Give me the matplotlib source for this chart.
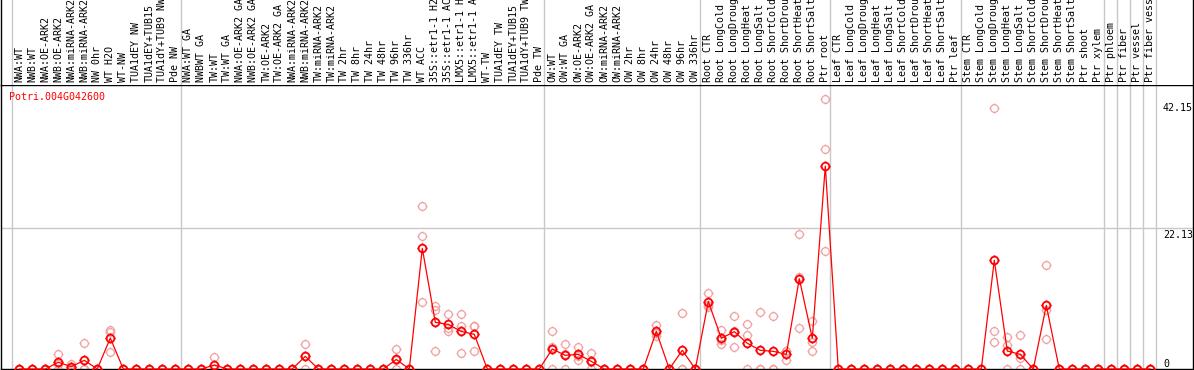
import numpy as np
import matplotlib
matplotlib.use("Agg")
import matplotlib.pyplot as plt
from matplotlib.path import Path

gene = "Potri.004G042600"

labels = [
    # NW
    "NWA:WT", "NWB:WT", "NWA:OE-ARK2", "NWB:OE-ARK2", "NWA:miRNA-ARK2", "NWB:miRNA-ARK2",
    "NW 0hr", "WT H2O", "WT-NW", "TUA1dEY NW", "TUA1dEY+TUB15", "TUA1dY+TUB9 NW", "Pde NW",
    # TW
    "NWA:WT GA", "NWBWT GA", "TW:WT", "TW:WT GA", "NWA:OE-ARK2 GA", "NWB:OE-ARK2 GA",
    "TW:OE-ARK2", "TW:OE-ARK2 GA", "NWA:miRNA-ARK2", "NWB:miRNA-ARK2", "TW:miRNA-ARK2",
    "TW:miRNA-ARK2", "TW 2hr", "TW 8hr", "TW 24hr", "TW 48hr", "TW 96hr", "TW 336hr",
    "WT ACC", "35S::etr1-1 H2", "35S::etr1-1 AC", "LMX5::etr1-1 H", "LMX5::etr1-1 A",
    "WT-TW", "TUA1dEY TW", "TUA1dEY+TUB15", "TUA1dY+TUB9 TW", "Pde TW",
    # OW
    "OW:WT", "OW:WT GA", "OW:OE-ARK2", "OW:OE-ARK2 GA", "OW:miRNA-ARK2", "OW:miRNA-ARK2",
    "OW 2hr", "OW 8hr", "OW 24hr", "OW 48hr", "OW 96hr", "OW 336hr",
    # root
    "Root CTR", "Root LongCold", "Root LongDroug", "Root LongHeat", "Root LongSalt",
    "Root ShortCold", "Root ShortDrou", "Root ShortHeat", "Root ShortSalt", "Ptr root",
    # leaf
    "Leaf CTR", "Leaf LongCold", "Leaf LongDroug", "Leaf LongHeat", "Leaf LongSalt",
    "Leaf ShortCold", "Leaf ShortDrou", "Leaf ShortHeat", "Leaf ShortSalt", "Ptr leaf",
    # stem + tissues
    "Stem CTR", "Stem LongCold", "Stem LongDroug", "Stem LongHeat", "Stem LongSalt",
    "Stem ShortCold", "Stem ShortDrou", "Stem ShortHeat", "Stem ShortSalt", "Ptr shoot",
    "Ptr xylem", "Ptr phloem", "Ptr fiber", "Ptr vessel", "Ptr fiber vess",
]

# first sample of each block (vertical separators)
group_starts = [0, 13, 41, 53, 63, 73, 84, 85, 86, 87, 88]

means = [
    0, 0, 0, 1.05, 0.37, 1.36, 0, 4.87, 0, 0, 0, 0, 0,
    0, 0, 0.63, 0, 0, 0, 0, 0, 0, 2.0, 0, 0, 0, 0, 0, 0, 1.5, 0,
    18.97, 7.34, 7.0, 5.9, 5.45, 0, 0, 0, 0, 0,
    3.14, 2.15, 2.3, 1.2, 0, 0, 0, 0, 5.9, 0, 2.94, 0,
    10.6, 4.83, 5.87, 4.04, 2.94, 2.78, 2.3, 14.2, 4.83, 31.9,
    0, 0, 0, 0, 0, 0, 0, 0, 0, 0,
    0, 0, 17.1, 2.83, 2.3, 0, 10.0, 0, 0, 0, 0, 0, 0, 0, 0,
]

rep1 = [
    0, 0, 0, 2.3, 0.8, 4.1, 0, 6.1, 0, 0, 0, 0, 0,
    0, 0, 1.9, 0, 0, 0, 0, 0, 0, 4.0, 0, 0, 0, 0, 0, 0, 3.1, 0,
    25.6, 9.9, 8.6, 8.6, 6.8, 0, 0, 0, 0, 0,
    6.0, 4.0, 3.5, 2.5, 0, 0, 0, 0, 6.9, 0, 8.8, 0,
    11.9, 6.1, 8.3, 7.0, 8.9, 8.4, 2.8, 21.3, 7.6, 42.5,
    0, 0, 0, 0, 0, 0, 0, 0, 0, 0,
    0, 0, 41.0, 5.0, 5.3, 0, 16.3, 0, 0, 0, 0, 0, 0, 0, 0,
]

rep2 = [
    0, 0, 0, 0.85, 0.3, 0, 0, 5.8, 0, 0, 0, 0, 0,
    0, 0, 0, 0, 0, 0, 0, 0, 0, 2.0, 0, 0, 0, 0, 0, 0, 1.4, 0,
    20.9, 9.2, 6.4, 6.8, 6.7, 0, 0, 0, 0, 0,
    3.4, 2.4, 2.0, 1.1, 0, 0, 0, 0, 5.6, 0, 0, 0,
    10.1, 4.5, 5.9, 5.3, 0, 0, 2.8, 14.5, 4.2, 34.6,
    0, 0, 0, 0, 0, 0, 0, 0, 0, 0,
    0, 0, 6.0, 3.7, 1.8, 0, 9.3, 0, 0, 0, 0, 0, 0, 0, 0,
]

rep3 = [
    0, 0, 0, 0, 0, 0, 0, 2.6, 0, 0, 0, 0, 0,
    0, 0, 0, 0, 0, 0, 0, 0, 0, 0, 0, 0, 0, 0, 0, 0, 0, 0,
    10.5, 2.9, 5.9, 2.5, 2.9, 0, 0, 0, 0, 0,
    0, 0, 1.4, 0, 0, 0, 0, 0, 5.2, 0, 0, 0,
    9.8, 3.9, 3.4, 0, 0, 0, 1.4, 6.4, 2.8, 18.5,
    0, 0, 0, 0, 0, 0, 0, 0, 0, 0,
    0, 0, 4.2, 0, 0, 0, 4.7, 0, 0, 0, 0, 0, 0, 0, 0,
]

ytick_vals = [42.15, 22.13, 0]

W, H = 1194, 370
RED = "#ff0000"
PALE = "#f0a0a0"
GRID = "#c8c8c8"
plt.rcParams["font.family"] = "DejaVu Sans Mono"
FS = 7.2

# ring marker with small ticks
ring = Path.make_compound_path(
    Path.unit_circle(),
    Path([(0, 1), (0, 1.3)]), Path([(0, -1), (0, -1.3)]),
    Path([(1, 0), (1.3, 0)]), Path([(-1, 0), (-1.3, 0)]),
)

x = np.arange(len(labels))
step = 13.0      # px per sample
x0px = 19.3      # px of first sample
left_px, right_px = 1, 1193
top_px, bot_px = 85, 369
yscale = 6.36    # px per unit

xlim = ((left_px - x0px) / step, (right_px - x0px) / step)

fig = plt.figure(figsize=(W / 100, H / 100), dpi=100)
ax = fig.add_axes([left_px / W, (H - bot_px) / H,
                   (right_px - left_px) / W, (bot_px - top_px) / H])
hx = fig.add_axes([left_px / W, (H - top_px) / H,
                   (right_px - left_px) / W, top_px / H])

ax.set_xlim(*xlim)
ax.set_ylim(0, (bot_px - top_px) / yscale)
hx.set_xlim(*xlim)
hx.set_ylim(0, top_px)

for a in (ax, hx):
    a.set_xticks([])
    a.set_yticks([])
    for s in a.spines.values():
        s.set_color("black")
        s.set_linewidth(1.0)
hx.spines["top"].set_visible(False)
hx.spines["bottom"].set_visible(False)

bounds = [g - 0.6 for g in group_starts]
for b in bounds:
    ax.axvline(b, color=GRID, lw=1.0, zorder=1)
    hx.axvline(b, color=GRID, lw=1.0, zorder=1)
ax.axhline(ytick_vals[1], color=GRID, lw=1.0, zorder=1)

# replicates
for r in (rep1, rep2, rep3):
    ax.plot(x, r, ls="none", marker=ring, ms=7.2, mfc="none", mec=PALE,
            mew=0.9, zorder=2, clip_on=False)

# mean profile
ax.plot(x, means, color=RED, lw=0.9, marker=ring, ms=7.2, mfc="none",
        mec=RED, mew=1.3, zorder=3, clip_on=False)

ax.text((9.3 - left_px) / (right_px - left_px), (bot_px - 96.7) / (bot_px - top_px),
        gene, transform=ax.transAxes, color=RED, fontsize=FS, ha="left", va="center")

# value labels on the right
lab_x = (1163 - x0px) / step
for v in ytick_vals:
    if v == 0:
        ax.text(lab_x, 0, "0", fontsize=FS, ha="left", va="bottom")
    else:
        ax.annotate("%.2f" % v, (lab_x, v), xytext=(0, -1.5), textcoords="offset points",
                    fontsize=FS, ha="left", va="top")

# sample names
for i, lab in enumerate(labels):
    hx.text(i, 3, lab, rotation=90, ha="center", va="bottom", fontsize=FS)

fig.savefig("out.png", dpi=100)
